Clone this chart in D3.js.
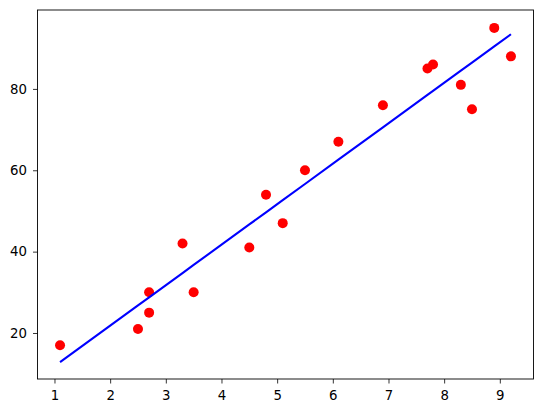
<!DOCTYPE html>
<html><head><meta charset="utf-8">
<script src="https://cdn.jsdelivr.net/npm/d3@7"></script>
<style>body{margin:0;background:#fff}svg{display:block}</style>
</head><body>
<script>
const hours  = [1.1, 2.5, 2.7, 2.7, 3.3, 3.5, 4.5, 4.8, 5.1, 5.5, 6.1, 6.9, 7.7, 7.8, 8.3, 8.5, 8.9, 9.2];
const scores = [17, 21, 25, 30, 42, 30, 41, 54, 47, 60, 67, 76, 85, 86, 81, 75, 95, 88];
const predicted = [12.85, 26.78, 28.77, 28.77, 34.74, 36.73, 46.68, 49.66, 52.65, 56.63, 62.60, 70.56, 78.52, 79.51, 84.49, 86.48, 90.46, 93.44];
const xTicks = [1, 2, 3, 4, 5, 6, 7, 8, 9];
const yTicks = [20, 40, 60, 80];

const W = 543, H = 413;
const L = 37.5, R = 533.5, T = 10, B = 379;
const svg = d3.select("body").append("svg").attr("width", W).attr("height", H);

const x = d3.scaleLinear().domain([0.695, 9.605]).range([L, R]);
const y = d3.scaleLinear().domain([8.69, 99.4]).range([B, T]);

const pts = hours.map((h, i) => ({h, s: scores[i], p: predicted[i]}));

svg.append("g").selectAll("circle").data(pts).join("circle")
  .attr("cx", d => x(d.h)).attr("cy", d => y(d.s)).attr("r", 5).attr("fill", "#ff0000");

const line = d3.line().x(d => x(d.h)).y(d => y(d.p));
svg.append("path").datum(pts).attr("d", line)
  .attr("fill", "none").attr("stroke", "#0000ff").attr("stroke-width", 2.1);

const font = "DejaVu Sans";
const gx = svg.append("g").attr("transform", `translate(0,${B})`)
  .call(d3.axisBottom(x).tickValues(xTicks).tickSize(4.5).tickSizeOuter(0).tickPadding(7.5));
const gy = svg.append("g").attr("transform", `translate(${L},0)`)
  .call(d3.axisLeft(y).tickValues(yTicks).tickSize(4.5).tickSizeOuter(0).tickPadding(6));
[gx, gy].forEach(g => {
  g.select(".domain").remove();
  g.selectAll("text").attr("font-family", font).attr("font-size", 13.3).attr("fill", "#000");
  g.selectAll("line").attr("stroke", "#000").attr("stroke-width", 0.8);
});

svg.append("rect").attr("x", L).attr("y", T).attr("width", R - L).attr("height", B - T)
  .attr("fill", "none").attr("stroke", "#000").attr("stroke-width", 0.9);
</script>
</body></html>
